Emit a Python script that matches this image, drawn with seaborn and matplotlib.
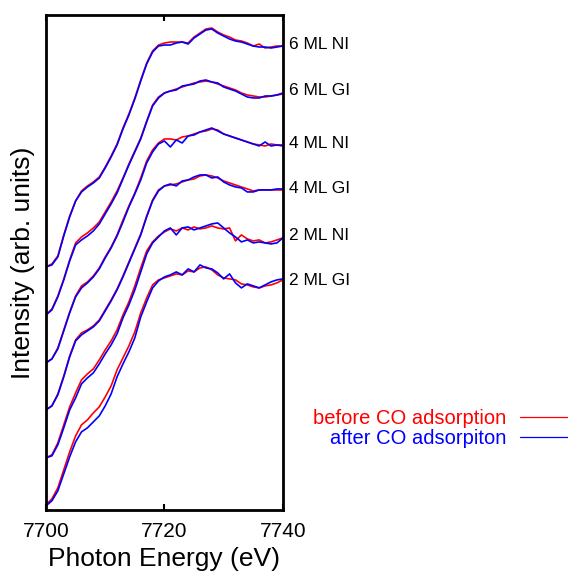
import matplotlib
matplotlib.use('Agg')
import matplotlib.pyplot as plt
import pandas as pd
import seaborn as sns

# energia do foton (eV), passo de 1 eV
energia = list(range(7700, 7741))

# intensidade (unidades arbitrarias, ja com deslocamento vertical)
ni6_antes = [243, 246, 254, 275, 294, 309, 319, 324, 328, 333, 343, 354, 366, 382, 396, 412, 430, 447, 459, 465, 467,
             468, 468, 468, 467, 473, 477, 481, 482, 478, 475, 473, 470, 469, 467, 464, 466, 462, 463, 464, 464]
ni6_depois = [243, 245, 253, 274, 293, 309, 318, 323, 327, 332, 342, 353, 365, 381, 395, 411, 429, 446, 458, 464, 465,
              465, 467, 468, 466, 472, 476, 480, 481, 477, 474, 471, 469, 468, 466, 464, 463, 463, 462, 463, 464]

gi6_antes = [195, 201, 214, 231, 250, 267, 273, 277, 282, 288, 298, 308, 319, 332, 346, 359, 372, 389, 405, 413, 417,
             419, 421, 423, 425, 427, 428, 429, 428, 426, 424, 422, 420, 417, 415, 414, 413, 413, 414, 415, 416]
gi6_depois = [195, 200, 213, 230, 249, 265, 270, 274, 279, 286, 296, 306, 317, 331, 345, 358, 371, 388, 404, 412, 417,
              419, 420, 424, 425, 426, 429, 430, 428, 427, 423, 421, 419, 416, 413, 412, 412, 414, 414, 415, 417]

ni4_antes = [147, 151, 162, 180, 198, 214, 224, 228, 234, 242, 253, 263, 275, 290, 304, 317, 332, 349, 360, 367, 371,
             371, 370, 373, 374, 376, 378, 379, 381, 380, 376, 374, 372, 370, 368, 366, 365, 364, 366, 365, 365]
ni4_depois = [147, 151, 161, 179, 197, 213, 222, 227, 233, 241, 252, 262, 274, 288, 303, 316, 330, 347, 358, 366, 369,
              363, 370, 367, 374, 375, 378, 380, 382, 379, 376, 374, 372, 370, 368, 366, 364, 368, 364, 365, 364]

gi4_antes = [100, 104, 116, 134, 154, 170, 177, 180, 184, 190, 200, 210, 221, 234, 248, 262, 276, 294, 310, 320, 324,
             325, 326, 328, 330, 331, 334, 335, 334, 332, 329, 327, 325, 323, 321, 319, 320, 320, 320, 320, 320]
gi4_depois = [100, 104, 115, 133, 153, 169, 175, 179, 183, 189, 199, 209, 220, 233, 247, 261, 275, 293, 309, 319, 324,
              326, 324, 329, 330, 333, 335, 335, 332, 333, 328, 325, 323, 322, 318, 318, 320, 320, 320, 321, 321]

ni2_antes = [52, 55, 67, 85, 103, 117, 130, 136, 141, 150, 160, 169, 180, 195, 208, 224, 242, 259, 268, 274, 278,
             281, 279, 282, 280, 283, 281, 282, 284, 282, 281, 282, 269, 275, 271, 269, 270, 267, 268, 270, 272]
ni2_depois = [52, 54, 65, 82, 100, 112, 126, 132, 137, 146, 156, 165, 176, 192, 205, 220, 238, 256, 267, 273, 279,
              282, 275, 282, 283, 280, 282, 284, 286, 287, 282, 277, 273, 268, 270, 267, 268, 267, 266, 267, 272]

gi2_antes = [5, 11, 22, 40, 58, 74, 85, 90, 97, 103, 113, 124, 140, 152, 164, 178, 197, 212, 225, 230, 232,
             234, 236, 235, 239, 238, 242, 243, 240, 235, 232, 231, 230, 226, 225, 223, 222, 224, 225, 227, 230]
gi2_depois = [4, 9, 19, 36, 53, 68, 78, 82, 88, 94, 104, 116, 133, 146, 158, 172, 193, 208, 222, 229, 233,
              235, 238, 235, 241, 238, 245, 242, 241, 237, 231, 236, 227, 222, 226, 224, 222, 225, 228, 230, 231]

amostras = ['6 ML NI', '6 ML GI', '4 ML NI', '4 ML GI', '2 ML NI', '2 ML GI']
pos_rotulos = [466, 419, 366, 321, 274, 229]
condicoes = ['before CO adsorption', 'after CO adsorpiton']
cores = {'before CO adsorption': '#ff0000', 'after CO adsorpiton': '#0000ff'}

dados = {
    '6 ML NI': (ni6_antes, ni6_depois),
    '6 ML GI': (gi6_antes, gi6_depois),
    '4 ML NI': (ni4_antes, ni4_depois),
    '4 ML GI': (gi4_antes, gi4_depois),
    '2 ML NI': (ni2_antes, ni2_depois),
    '2 ML GI': (gi2_antes, gi2_depois),
}

# monta tabela longa
linhas = []
for amostra in amostras:
    for cond, valores in zip(condicoes, dados[amostra]):
        for e, v in zip(energia, valores):
            linhas.append((amostra, cond, e, v))
df = pd.DataFrame(linhas, columns=['amostra', 'condicao', 'energia', 'intensidade'])

sns.set_style('ticks')
plt.rcParams['font.family'] = ['Liberation Sans', 'DejaVu Sans']
plt.rcParams['text.color'] = 'black'
plt.rcParams['axes.labelcolor'] = 'black'
plt.rcParams['xtick.color'] = 'black'

fig, ax = plt.subplots(figsize=(5.68, 5.78), dpi=100)
fig.subplots_adjust(left=0.081, right=0.498, top=0.974, bottom=0.118)

sns.lineplot(data=df, x='energia', y='intensidade', hue='condicao', units='amostra',
             estimator=None, palette=cores, hue_order=condicoes, linewidth=1.2, ax=ax)

ax.set_xlim(7700, 7740)
ax.set_ylim(0, 495)
ax.set_xticks([7700, 7720, 7740])
ax.set_yticks([])
ax.tick_params(axis='x', direction='in', top=True, length=4, width=1.5, labelsize=15, pad=9)
for s in ax.spines.values():
    s.set_linewidth(2)
    s.set_color('black')

ax.set_xlabel('Photon Energy (eV)', fontsize=19, labelpad=4)
ax.set_ylabel('Intensity (arb. units)', fontsize=19, labelpad=8)

# rotulos das amostras a direita
for rot, y in zip(amostras, pos_rotulos):
    ax.text(1.025, y, rot, transform=ax.get_yaxis_transform(), fontsize=12.5, va='center', ha='left')

handles, labels = ax.get_legend_handles_labels()
leg = ax.legend(handles, labels, loc='center right', bbox_to_anchor=(1.012, 0.2586),
                bbox_transform=fig.transFigure, markerfirst=False, labelcolor='linecolor',
                frameon=False, fontsize=14.5, handlelength=2.7, handletextpad=0.7,
                labelspacing=0.05, borderpad=0, borderaxespad=0)
for l in leg.get_lines():
    l.set_linewidth(0.9)

fig.savefig('out.png', dpi=100)
